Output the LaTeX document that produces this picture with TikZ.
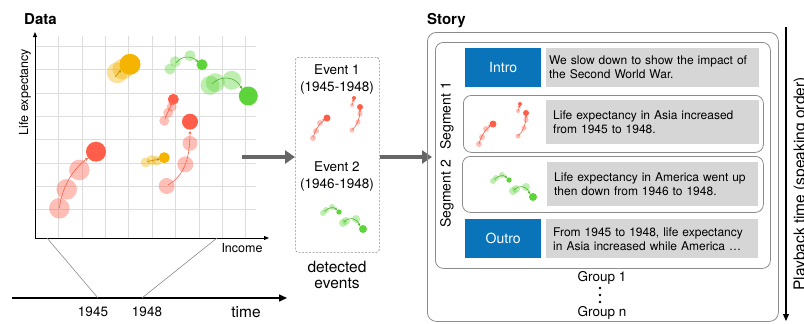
\documentclass[tikz,border=0pt]{standalone}
\usepackage{fontspec}
\setmainfont{TeX Gyre Heros}
\usetikzlibrary{arrows.meta}
\definecolor{redS}{HTML}{FF5E4A}
\definecolor{yelS}{HTML}{F5B400}
\definecolor{grnS}{HTML}{5DD43A}
\definecolor{blueS}{HTML}{0A74BA}
\definecolor{boxgray}{HTML}{D6D6D6}
\definecolor{gridgray}{HTML}{DDDDDD}
\definecolor{arrgray}{HTML}{666666}
\definecolor{framegray}{HTML}{8C8C8C}
\newcommand\fs[1]{\fontsize{#1}{#1}\selectfont}
\newcommand\evOne{%
  \fill[rf] (313,138) circle (3pt);
  \fill[rf] (316,131) circle (3pt);
  \fill[rf] (320,123) circle (3pt);
  \draw[arrR] (313,138) .. controls (315,130) and (319,124) .. (325,119);
  \fill[rs] (327,118) circle (3.5pt);
  \fill[rf] (352,105) circle (2pt);
  \draw[arrR] (352,105) -- (354,99);
  \fill[rs] (354,98) circle (2pt);
  \fill[rf] (352,130) circle (2.6pt);
  \fill[rf] (358,122) circle (2.6pt);
  \fill[rf] (360,114) circle (2.6pt);
  \draw[arrR] (352,130) .. controls (357,126) and (360,118) .. (360,109);
  \fill[rs] (360,107) circle (3pt);
}
\newcommand\evTwo{%
  \fill[gf] (323,213) circle (3pt);
  \fill[gf] (326,210) circle (3pt);
  \fill[gf] (332,207) circle (3pt);
  \draw[arrG] (325,211) .. controls (329,207) and (334,207) .. (337,210);
  \fill[gs] (339,212) circle (2.7pt);
  \fill[gf] (343,223) circle (4pt);
  \fill[gf] (346,221) circle (4pt);
  \fill[gf] (356,219) circle (4pt);
  \draw[arrG] (344,222) .. controls (348,217) and (356,217) .. (360,226);
  \fill[gs] (363,229) circle (4pt);
}
\begin{document}
\begin{tikzpicture}[x=1pt,y=-1pt,
  rf/.style={fill=redS, fill opacity=0.4},
  rs/.style={fill=redS},
  yf/.style={fill=yelS, fill opacity=0.4},
  ys/.style={fill=yelS},
  gf/.style={fill=grnS, fill opacity=0.4},
  gs/.style={fill=grnS},
  arrR/.style={draw=redS, line width=0.6pt, -{Stealth[length=3pt,width=3pt]}},
  arrY/.style={draw=yelS!80!black, line width=0.6pt, -{Stealth[length=3pt,width=3pt]}},
  arrG/.style={draw=grnS!85!black, line width=0.6pt, -{Stealth[length=3pt,width=3pt]}},
  gridline/.style={draw=gridgray, line width=0.6pt},
  axis/.style={draw=black, line width=1pt, -{Triangle[length=5pt,width=4pt]}},
  bigarrow/.style={draw=arrgray, line width=3.5pt, -{Triangle[length=10pt,width=13pt]}},
  zoomline/.style={draw=framegray, line width=0.6pt},
  gbox/.style={fill=boxgray, anchor=north west, align=left, inner ysep=0pt,
     font=\fontsize{12}{14}\selectfont},
  bluebox/.style={fill=blueS, text=white, anchor=north west, inner sep=0pt,
     minimum width=76pt, minimum height=39pt, font=\fs{14}},
  framebox/.style={draw=framegray, line width=0.8pt, anchor=north west, inner sep=0pt},
  lbl/.style={inner sep=0pt}
]
\useasboundingbox (0,0) rectangle (804,324);

% ---------------- Data panel ----------------
\node[lbl, anchor=base west, font=\bfseries\fs{15}] (datatitle) at (24,24) {Data};
\foreach \x in {58,82,105,128,152,175,199,222,245}
  \draw[gridline] (\x,36) -- (\x,238);
\foreach \y in {46,69,93,116,139,163,186,209}
  \draw[gridline] (35,\y) -- (256,\y);
\coordinate (orig) at (35,238);
\coordinate (ytop) at (35,32);
\coordinate (xend) at (269,238);
\draw[axis] (orig) -- (ytop);
\draw[axis] (orig) -- (xend);
\node[lbl, rotate=90, font=\fs{12.5}] (ylab) at (25,92) {Life expectancy};
\node[lbl, font=\fs{12.5}] (xlab) at (242,248) {Income};

% bubbles: red lower-left
\fill[rf] (59.3,208.3) circle (10.3pt);
\fill[rf] (66.7,189.3) circle (10.3pt);
\fill[rf] (79.3,170) circle (10.3pt);
\draw[arrR] (59.3,208.3) .. controls (62,186) and (74,168) .. (88,158);
\fill[rs] (96,151.7) circle (10pt);
% yellow big
\fill[yf] (117.3,72.7) circle (10.5pt);
\fill[yf] (123,69) circle (10.5pt);
\draw[arrY] (115,77) -- (121,70);
\fill[ys] (130,64.3) circle (10.5pt);
% green top
\fill[gf] (170,69) circle (5.5pt);
\fill[gf] (175.3,61.7) circle (5.5pt);
\fill[gf] (190,55.7) circle (5.5pt);
\draw[arrG] (176,63) .. controls (181,56) and (191,55) .. (198,62);
\fill[gs] (202,64.7) circle (5.5pt);
% green lower
\fill[gf] (210,85.3) circle (9.5pt);
\fill[gf] (215.3,82.7) circle (9.5pt);
\fill[gf] (231.7,80.3) circle (9.5pt);
\draw[arrG] (212,84) .. controls (219,76) and (235,75) .. (242,89);
\fill[gs] (248.3,96) circle (9.5pt);
% red small middle
\fill[rf] (164.3,120.7) circle (5pt);
\fill[rf] (168.3,112.7) circle (5pt);
\fill[rf] (171.7,106.7) circle (5pt);
\draw[arrR] (165,119) .. controls (167,113) and (170,108) .. (172,103);
\fill[rs] (173.3,99.3) circle (5.5pt);
% red right
\fill[rf] (166.7,186) circle (8pt);
\fill[rf] (185.3,164.3) circle (8pt);
\fill[rf] (190,143.3) circle (7.5pt);
\draw[arrR] (168,185) .. controls (182,177) and (190,162) .. (190,131);
\fill[rs] (190,121.7) circle (8pt);
% yellow small
\fill[yf] (145.7,162.3) circle (5pt);
\fill[yf] (151.7,160) circle (5pt);
\fill[yf] (156.7,160.7) circle (5pt);
\draw[arrY] (147,161.5) -- (160,159);
\fill[ys] (164.3,157.7) circle (5.5pt);

% time axis
\coordinate (tstart) at (12,298);
\coordinate (tend) at (287,298);
\draw[draw=black, line width=1.6pt, -{Triangle[length=8pt,width=7pt]}] (tstart) -- (tend);
\coordinate (z1a) at (47,238);
\coordinate (z1b) at (98,298);
\coordinate (z2a) at (217,238);
\coordinate (z2b) at (142,298);
\draw[zoomline] (z1a) -- (z1b);
\draw[zoomline] (z2a) -- (z2b);
\node[lbl, font=\fs{13.5}] (y1945) at (93,312) {1945};
\node[lbl, font=\fs{13.5}] (y1948) at (147,312) {1948};
\node[lbl, font=\fs{15.5}] (timelbl) at (246,312) {time};

% ---------------- detected events ----------------
\node[draw=framegray, line width=0.7pt, dash pattern=on 2pt off 1.5pt, rounded corners=3pt,
      anchor=north west, inner sep=0pt, minimum width=84pt, minimum height=195pt]
      (events) at (295,57) {};
\node[lbl, align=center, font=\fontsize{13.5}{17}\selectfont] (ev1) at (337,79.5) {Event 1\\(1945-1948)};
\node[lbl, align=center, font=\fontsize{13.5}{17}\selectfont] (ev2) at (337,176.5) {Event 2\\(1946-1948)};
\node[lbl, align=center, font=\fontsize{15.5}{16.5}\selectfont] (detlbl) at (337,275) {detected\\events};
\evOne
\evTwo

\coordinate (a1start) at (242,157);
\draw[bigarrow] (a1start) -- (events.west |- a1start);
\coordinate (a2start) at (events.east |- a1start);
\coordinate (a2end) at (432,157);
\draw[bigarrow] (a2start) -- (a2end);

% ---------------- Story ----------------
\node[lbl, anchor=base west, font=\bfseries\fs{15}] (storytitle) at (427,24) {Story};
\node[framebox, rounded corners=9pt, minimum width=351pt, minimum height=289pt] (story) at (427,32) {};
\node[framebox, rounded corners=8pt, minimum width=335pt, minimum height=226pt] (group1) at (435,42) {};
\node[framebox, rounded corners=8pt, minimum width=300pt, minimum height=57pt] (seg1) at (463,95) {};
\node[framebox, rounded corners=8pt, minimum width=301pt, minimum height=56pt] (seg2) at (462,156) {};

\node[bluebox] (intro) at (465,48) {Intro};
\node[gbox, inner xsep=3pt, text width=207pt, minimum height=39pt] (introtxt) at (546,48)
  {We slow down to show the impact of\\the Second World War.};
\node[gbox, inner xsep=7pt, text width=199pt, minimum height=44pt] (seg1txt) at (546,100)
  {Life expectancy in Asia increased\\from 1945 to 1948.};
\node[gbox, inner xsep=7pt, text width=197pt, minimum height=44pt] (seg2txt) at (547,162)
  {Life expectancy in America went up\\then down from 1946 to 1948.};
\node[bluebox] (outro) at (465,219) {Outro};
\node[gbox, inner xsep=7pt, text width=198pt, minimum height=39pt] (outrotxt) at (546,219)
  {From 1945 to 1948, life expectancy\\in Asia increased while America \ldots};

\begin{scope}[shift={(166,6)}]\evOne\end{scope}
\begin{scope}[shift={(170,-32)}]\evTwo\end{scope}

\node[lbl, rotate=90, font=\fs{14}] (seg1lbl) at (447,116) {Segment 1};
\node[lbl, rotate=90, font=\fs{14}] (seg2lbl) at (447,194) {Segment 2};

\node[lbl, font=\fs{13.5}] (g1lbl) at (602,278) {Group 1};
\foreach \y in {288,295,302} \fill (600,\y) circle (1.3pt);
\node[lbl, font=\fs{13.5}] (gnlbl) at (602,313) {Group n};

\coordinate (ptop) at (786,27);
\coordinate (pbot) at (786,321);
\draw[draw=black, line width=1.3pt, -{Triangle[length=7pt,width=6pt]}] (ptop) -- (pbot);
\node[lbl, rotate=90, font=\fs{15.5}] (playlbl) at (801,184) {Playback time (speaking order)};
\end{tikzpicture}
\end{document}
